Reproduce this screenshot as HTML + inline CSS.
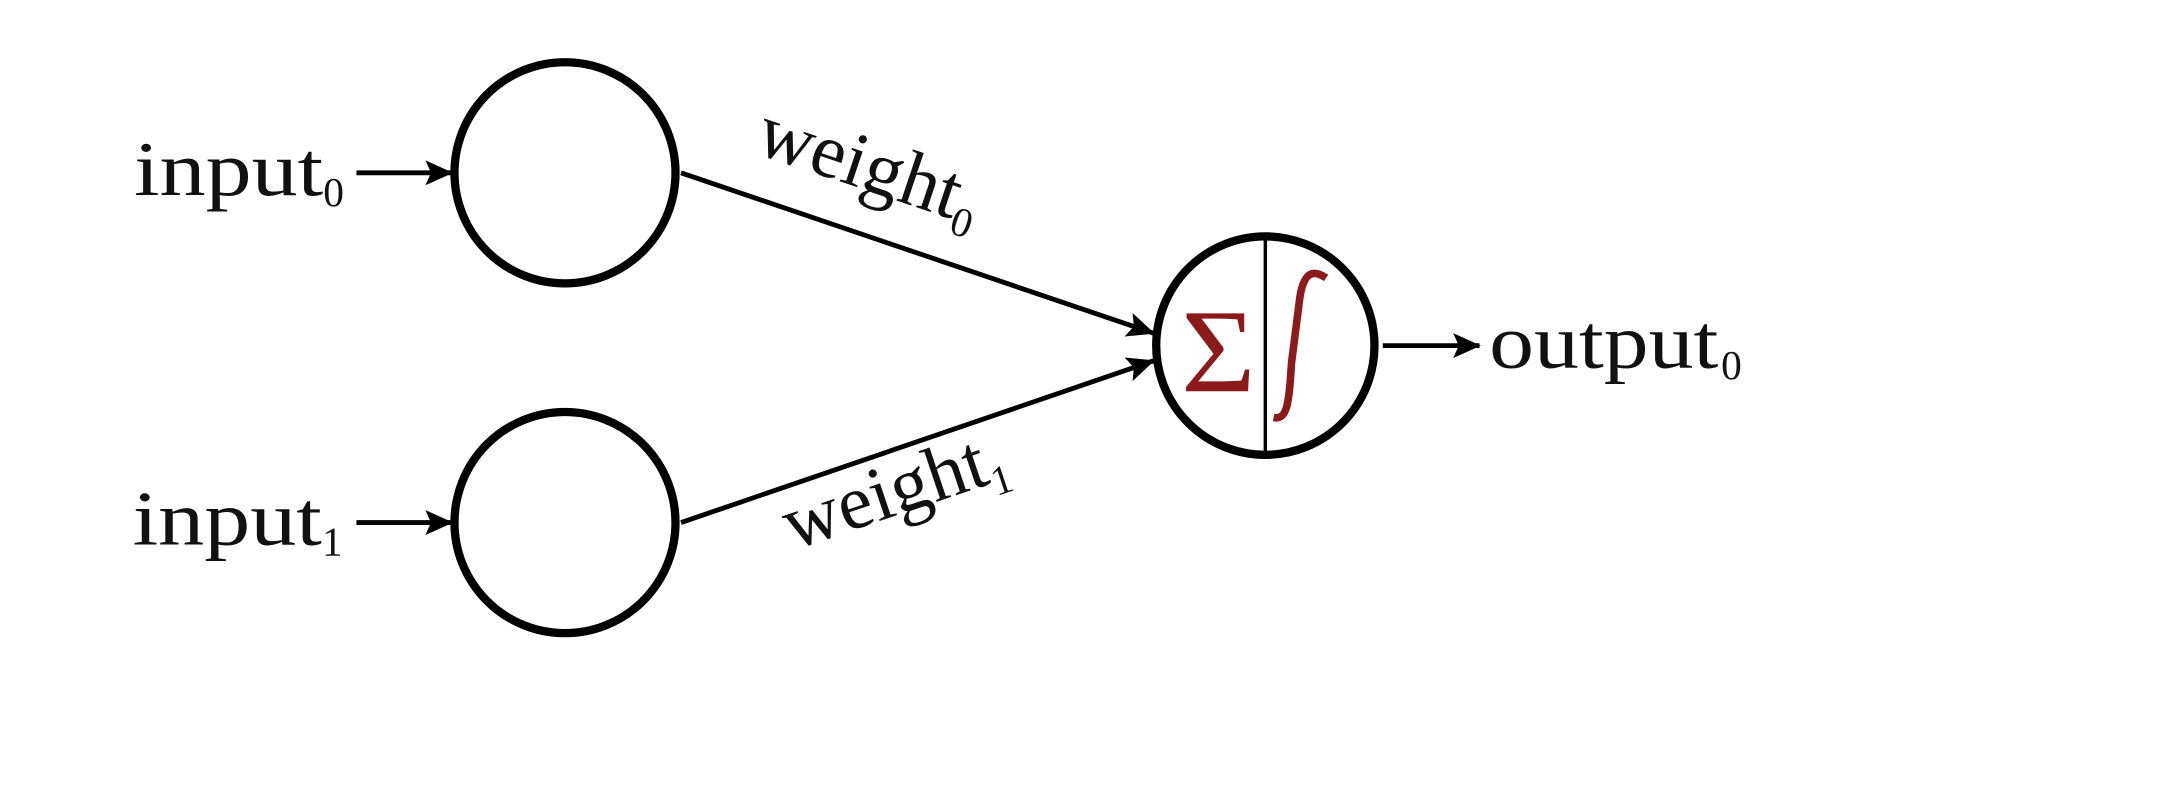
<!DOCTYPE html>
<html><head><meta charset="utf-8"><style>
html,body{margin:0;padding:0;background:#fff;}
svg{display:block;}
text{font-family:"Liberation Serif",serif;fill:#111;}
</style></head><body>
<svg width="2166" height="788" viewBox="0 0 1568 570" preserveAspectRatio="none" xmlns="http://www.w3.org/2000/svg">
<defs>
<marker id="ah2" markerWidth="20" markerHeight="18" refX="19" refY="9" orient="auto" markerUnits="userSpaceOnUse" viewBox="0 0 20 18">
<path d="M0,0 L20,9 L0,18 L4,9 z" fill="#000"/>
</marker>
</defs>
<circle cx="409" cy="125" r="80" fill="none" stroke="#000" stroke-width="6"/>
<circle cx="409" cy="378" r="80" fill="none" stroke="#000" stroke-width="6"/>
<circle cx="916" cy="250" r="79" fill="none" stroke="#000" stroke-width="6"/>
<line x1="916" y1="172" x2="916" y2="329" stroke="#000" stroke-width="2.5"/>
<line x1="258" y1="125" x2="327" y2="125" stroke="#000" stroke-width="3.5" marker-end="url(#ah2)"/>
<line x1="258" y1="378" x2="327" y2="378" stroke="#000" stroke-width="3.5" marker-end="url(#ah2)"/>
<line x1="493" y1="125" x2="835" y2="241" stroke="#000" stroke-width="3.5" marker-end="url(#ah2)"/>
<line x1="493" y1="378" x2="835" y2="261" stroke="#000" stroke-width="3.5" marker-end="url(#ah2)"/>
<line x1="1001" y1="250" x2="1071" y2="250" stroke="#000" stroke-width="3.5" marker-end="url(#ah2)"/>
<text x="97" y="141" font-size="56" textLength="137" lengthAdjust="spacingAndGlyphs">input</text>
<text x="234" y="149" font-size="30">0</text>
<text x="96" y="394" font-size="56" textLength="137" lengthAdjust="spacingAndGlyphs">input</text>
<text x="233" y="402" font-size="30">1</text>
<text x="1078" y="266" font-size="56" textLength="166" lengthAdjust="spacingAndGlyphs">output</text>
<text x="1246" y="274" font-size="30">0</text>
<g transform="translate(545,110) rotate(18.6)">
<text x="0" y="0" font-size="56" textLength="152" lengthAdjust="spacingAndGlyphs">weight</text>
<text x="152" y="10" font-size="30">0</text>
</g>
<g transform="translate(574,398) rotate(-18.6)">
<text x="0" y="0" font-size="56" textLength="152" lengthAdjust="spacingAndGlyphs">weight</text>
<text x="152" y="10" font-size="30">1</text>
</g>
<text x="855" y="283" font-size="86" textLength="54" lengthAdjust="spacingAndGlyphs" style="fill:#8b1a1a">Σ</text>
<path d="M922,302 C932,304 933,292 935,262 L941,215 C944,196 951,195 960,201" fill="none" stroke="#8b1a1a" stroke-width="5.5"/>
</svg>
</body></html>
